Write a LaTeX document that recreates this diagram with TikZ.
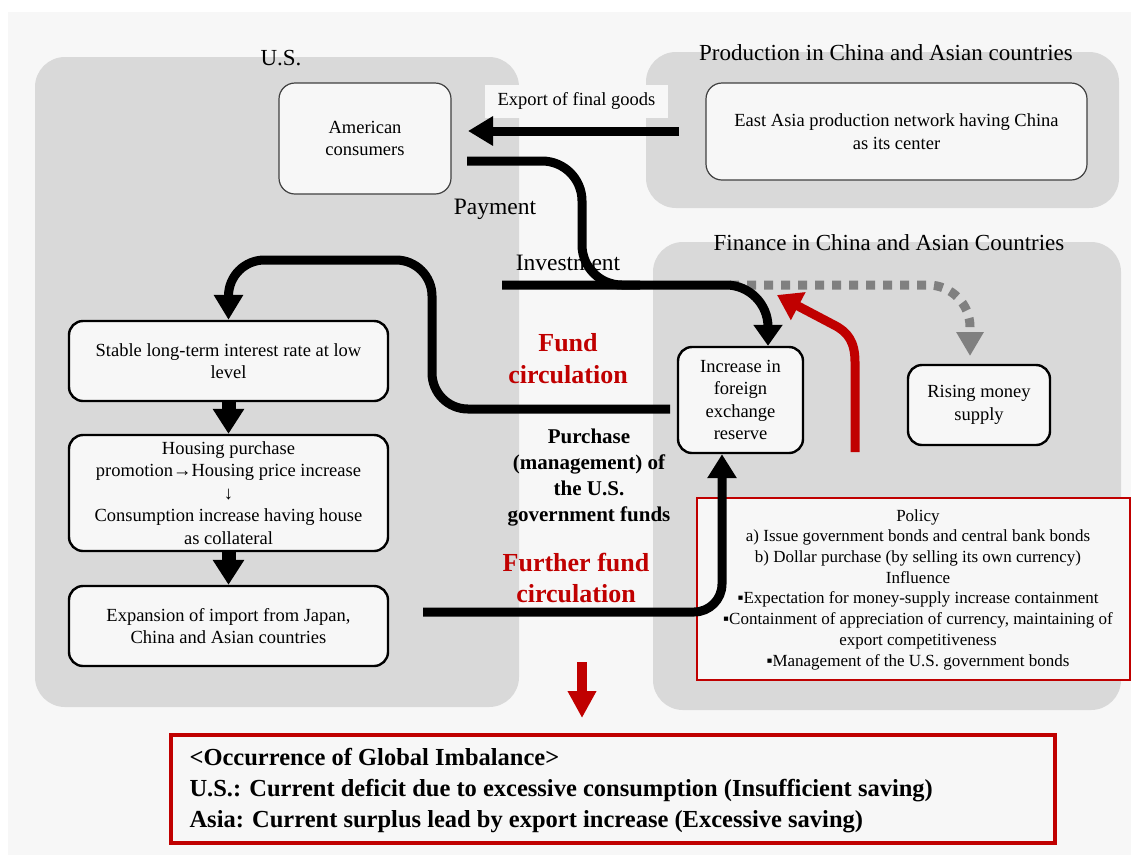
\documentclass[tikz,border=0pt]{standalone}
\usepackage{fontspec}
\setmainfont{Liberation Serif}
\usetikzlibrary{arrows.meta}
\definecolor{panel}{HTML}{D9D9D9}
\definecolor{bglight}{HTML}{F7F7F7}
\definecolor{dred}{HTML}{C00000}
\definecolor{dgray}{HTML}{808080}
\begin{document}
\begin{tikzpicture}[x=1pt,y=-1pt,
  panelbox/.style={fill=panel, rounded corners=30pt},
  boxfont/.style={font=\fontsize{18.5}{22.5}\selectfont},
  thinbox/.style={draw=black!75, line width=1.2pt, fill=bglight, rounded corners=16pt, align=center, inner sep=0pt, boxfont},
  thickbox/.style={draw=black, line width=2.4pt, fill=bglight, rounded corners=14pt, align=center, inner sep=0pt, boxfont},
  title/.style={font=\fontsize{23}{26}\selectfont},
  redlbl/.style={font=\bfseries\fontsize{26}{32}\selectfont, text=dred, align=center},
  flow/.style={line width=9pt, draw=black},
  bighead/.style={-{Triangle[width=28pt,length=25pt]}},
  downhead/.style={line width=14pt, -{Triangle[width=30pt,length=25pt]}},
]
\useasboundingbox (0,0) rectangle (1131,855);
\fill[white] (0,0) rectangle (1131,855);
\fill[bglight] (8,12) rectangle (1131,855);
% panels
\fill[panelbox] (35,57) rectangle (519,707);
\fill[panelbox] (646,52) rectangle (1119,208);
\fill[panelbox] (653,242) rectangle (1121,710);
% panel titles
\node[title] (tus) at (281,58) {U.S.};
\node[title] (tprod) at (886,53) {Production in China and Asian countries};
\node[title] (tfin) at (889,243) {Finance in China and Asian Countries};
% labels
\node[fill=bglight, minimum width=183pt, minimum height=33pt, inner sep=0pt, boxfont] (explbl) at (576.5,101) {Export of final goods};
\node[font=\fontsize{23.5}{26}\selectfont] (pay) at (495,209) {Payment};
\node[font=\fontsize{23.5}{26}\selectfont] (inv) at (568,263) {Investment};
\node[redlbl] (fundc) at (568,359) {Fund\\circulation};
\node[font=\bfseries\fontsize{21}{26.3}\selectfont, align=center] (purch) at (589,477.5) {Purchase\\(management) of\\the U.S.\\government funds};
\node[redlbl, font=\bfseries\fontsize{26}{31}\selectfont] (ffundc) at (576,577.5) {Further fund\\circulation};
% boxes
\node[thinbox, minimum width=172pt, minimum height=111pt] (amc) at (365,138.5) {American\\consumers};
\node[thinbox, minimum width=381pt, minimum height=97pt] (east) at (896.5,131.5) {East Asia production network having China\\as its center};
\node[thickbox, minimum width=319pt, minimum height=80pt] (stable) at (228.5,361) {Stable long-term interest rate at low\\level};
\node[thickbox, minimum width=319pt, minimum height=116pt] (housing) at (228.5,493) {Housing purchase\\promotion→Housing price increase\\↓\\Consumption increase having house\\as collateral};
\node[thickbox, minimum width=319pt, minimum height=80pt] (expan) at (228.5,626) {Expansion of import from Japan,\\China and Asian countries};
\node[thickbox, minimum width=125pt, minimum height=106pt] (reserve) at (740.5,400) {Increase in\\foreign\\exchange\\reserve};
\node[thickbox, minimum width=142pt, minimum height=80pt] (money) at (979,405) {Rising money\\supply};
\node[draw=dred, line width=2.5pt, fill=bglight, minimum width=433pt, minimum height=182pt, inner sep=0pt] (policy) at (913.5,589) {};
\node[font=\fontsize{17}{20.7}\selectfont, align=center] (policytxt) at (918,589.5) {Policy\\a) Issue government bonds and central bank bonds\\b) Dollar purchase (by selling its own currency)\\Influence\\▪Expectation for money-supply increase containment\\▪Containment of appreciation of currency, maintaining of\\export competitiveness\\▪Management of the U.S. government bonds};
\node[draw=dred, line width=3.5pt, fill=bglight, minimum width=884pt, minimum height=108pt] (result) at (613,789) {};
\node[anchor=west, align=left, font=\bfseries\fontsize{24.5}{31}\selectfont] (resulttxt) at (186,791) {<Occurrence of Global Imbalance>\\U.S.: Current deficit due to excessive consumption (Insufficient saving)\\Asia: Current surplus lead by export increase (Excessive saving)};
% coordinates
\coordinate (expS) at (679,131);
\coordinate (expE) at (468,131);
\coordinate (payS) at (467,161);
\coordinate (invS) at (502,285);
\coordinate (dashS) at (730,285);
\coordinate (dashE) at (970,356);
\coordinate (redS) at (855,452);
\coordinate (redE) at (777,295);
\coordinate (fcS) at (670,409);
\coordinate (ffS) at (423,612);
\coordinate (arrS) at (582,662);
\coordinate (arrE) at (582,718);
% connectors
\draw[flow, bighead] (expS) -- (expE);
\draw[flow, rounded corners=40pt] (payS) -- (582,161) -- (582,285) -- (640,285);
\draw[line width=9pt, dgray, dash pattern=on 9pt off 8pt, rounded corners=42pt, -{Triangle[width=26pt,length=24pt]}] (dashS) -- (970,285) -- (dashE);
\draw[flow, rounded corners=42pt, -{Triangle[width=28pt,length=21pt]}] (invS) -- (768,285) -- ([xshift=27.5pt]reserve.north);
\draw[line width=9pt, dred, -{Triangle[width=30pt,length=24pt]}] (redS) -- (855,362) .. controls (855,342) and (848,332) .. (834,325) -- (redE);
\draw[flow, rounded corners=36pt, bighead] (fcS) -- (432,409) -- (432,260) -- (228.5,260) -- (stable.north);
\draw[flow, rounded corners=28pt, -{Triangle[width=28pt,length=24pt]}] (ffS) -- (722,612) -- ([xshift=-18.5pt]reserve.south);
\draw[downhead] (stable.south) -- (housing.north);
\draw[downhead] (housing.south) -- (expan.north);
\draw[dred, line width=10pt, -{Triangle[width=27pt,length=27pt]}] (arrS) -- (arrE);
\end{tikzpicture}
\end{document}
